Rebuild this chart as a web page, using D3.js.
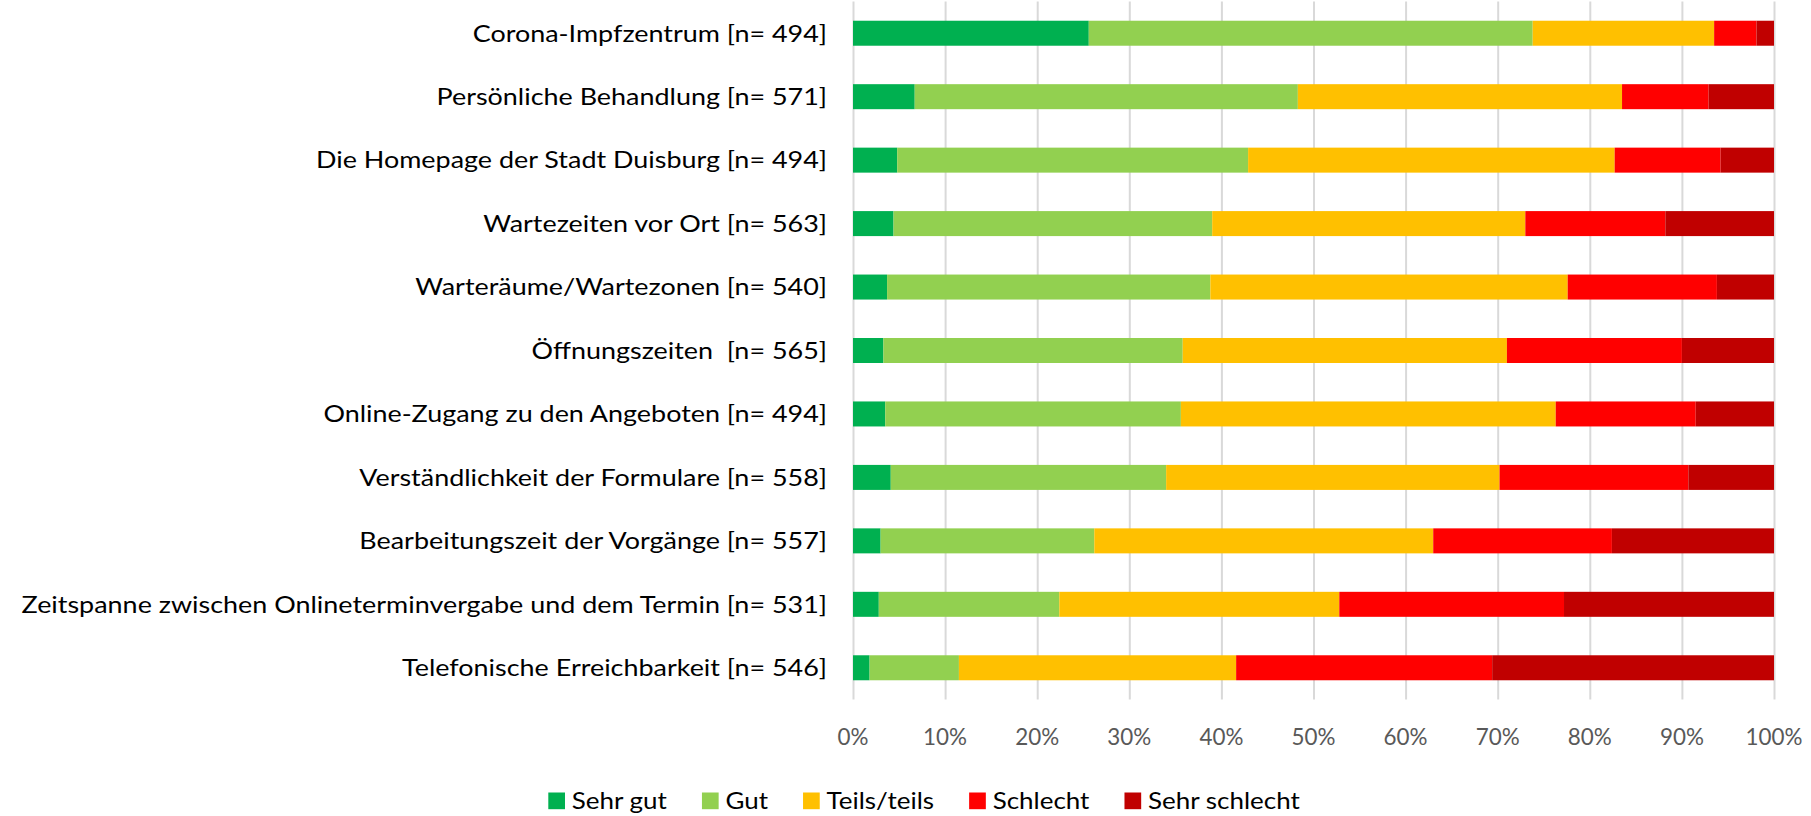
<!DOCTYPE html>
<html>
<head>
<meta charset="utf-8">
<script src="https://cdn.jsdelivr.net/npm/d3@7"></script>
<style>
  body { margin: 0; background: #fff; }
  text { font-family: Lato, "Open Sans", sans-serif; }
</style>
</head>
<body>
<div id="chart"></div>
<script>
// data (percent per answer)
const categories = [
  "Corona-Impfzentrum [n= 494]",
  "Persönliche Behandlung [n= 571]",
  "Die Homepage der Stadt Duisburg [n= 494]",
  "Wartezeiten vor Ort [n= 563]",
  "Warteräume/Wartezonen [n= 540]",
  "Öffnungszeiten  [n= 565]",
  "Online-Zugang zu den Angeboten [n= 494]",
  "Verständlichkeit der Formulare [n= 558]",
  "Bearbeitungszeit der Vorgänge [n= 557]",
  "Zeitspanne zwischen Onlineterminvergabe und dem Termin [n= 531]",
  "Telefonische Erreichbarkeit [n= 546]"
];
const seriesNames = ["Sehr gut", "Gut", "Teils/teils", "Schlecht", "Sehr schlecht"];
const sehrGut      = [25.6, 6.7, 4.8, 4.4, 3.7, 3.3, 3.5, 4.1, 3.0, 2.8, 1.8];
const gut          = [48.2, 41.6, 38.1, 34.6, 35.1, 32.5, 32.1, 29.9, 23.2, 19.6, 9.7];
const teilsTeils   = [19.7, 35.2, 39.8, 34.0, 38.8, 35.2, 40.7, 36.2, 36.8, 30.4, 30.1];
const schlecht     = [4.6, 9.4, 11.5, 15.2, 16.2, 19.0, 15.2, 20.5, 19.4, 24.4, 27.8];
const sehrSchlecht = [1.9, 7.1, 5.8, 11.8, 6.2, 10.0, 8.5, 9.3, 17.6, 22.8, 30.6];
const tickValues = [0, 10, 20, 30, 40, 50, 60, 70, 80, 90, 100];

const colors = ["#00B050", "#92D050", "#FFC000", "#FF0000", "#C00000"];

// build rows for the stack
const allSeries = [sehrGut, gut, teilsTeils, schlecht, sehrSchlecht];
const rows = categories.map(function(c, i) {
  const r = { cat: c };
  seriesNames.forEach(function(s, j) { r[s] = allSeries[j][i]; });
  return r;
});

const W = 1811, H = 816;
const plot = { left: 853, right: 1774, top: 1.5, bottom: 699.5 };

const svg = d3.select("#chart")
  .append("svg")
    .attr("width", W)
    .attr("height", H);

const x = d3.scaleLinear()
  .domain([0, 100])
  .range([plot.left, plot.right]);

const y = d3.scaleBand()
  .domain(categories)
  .range([plot.top, plot.bottom])
  .paddingInner(0.606)
  .paddingOuter(0.303);

const color = d3.scaleOrdinal()
  .domain(seriesNames)
  .range(colors);

// vertical gridlines
svg.append("g")
  .attr("transform", `translate(0,${plot.bottom})`)
  .call(d3.axisBottom(x).tickValues(tickValues).tickSize(-(plot.bottom - plot.top)).tickFormat(""))
  .call(g => g.select(".domain").remove())
  .call(g => g.selectAll("line").attr("stroke", "#D9D9D9").attr("stroke-width", 2));

// stacked bars
const stacked = d3.stack().keys(seriesNames)(rows);

svg.append("g")
  .selectAll("g")
  .data(stacked)
  .join("g")
    .attr("fill", d => color(d.key))
  .selectAll("rect")
  .data(d => d)
  .join("rect")
    .attr("x", d => x(d[0]))
    .attr("y", d => y(d.data.cat))
    .attr("width", d => x(d[1]) - x(d[0]))
    .attr("height", y.bandwidth());

// category labels (stretched a little to match the wide original text)
const labelEnd = 827;
const catLabels = svg.append("g")
  .selectAll("text")
  .data(categories)
  .join("text")
    .attr("text-anchor", "end")
    .attr("dy", "0.36em")
    .style("font-size", "23px")
    .style("white-space", "pre")
    .attr("fill", "#000")
    .text(d => d);
const maxW = d3.max(catLabels.nodes(), n => n.getComputedTextLength());
const kCat = 806 / maxW;
catLabels.attr("transform", d => `translate(${labelEnd},${y(d) + y.bandwidth() / 2}) scale(${kCat},1)`);

// x tick labels
const tickLabels = svg.append("g")
  .selectAll("text")
  .data(tickValues)
  .join("text")
    .attr("text-anchor", "middle")
    .attr("dy", "0.36em")
    .style("font-size", "24px")
    .attr("fill", "#595959")
    .text(d => d + "%");
const w100 = tickLabels.filter(d => d === 100).node().getComputedTextLength();
const kTick = 57 / w100;
tickLabels.attr("transform", d => `translate(${x(d)},736.5) scale(${kTick},1)`);

// legend
const legend = svg.append("g");
let lx = 548.3;
const sq = 16.7;
seriesNames.forEach(function(s) {
  legend.append("rect")
    .attr("x", lx)
    .attr("y", 792.5)
    .attr("width", sq)
    .attr("height", sq)
    .attr("fill", color(s));
  const t = legend.append("text")
    .attr("y", 0)
    .style("font-size", "23px")
    .attr("fill", "#000")
    .text(s);
  const tw = t.node().getComputedTextLength();
  const k = 1.13;
  t.attr("transform", `translate(${lx + 23.5},809.3) scale(${k},1)`);
  lx = lx + 23.5 + tw * k + 35;
});
</script>
</body>
</html>
